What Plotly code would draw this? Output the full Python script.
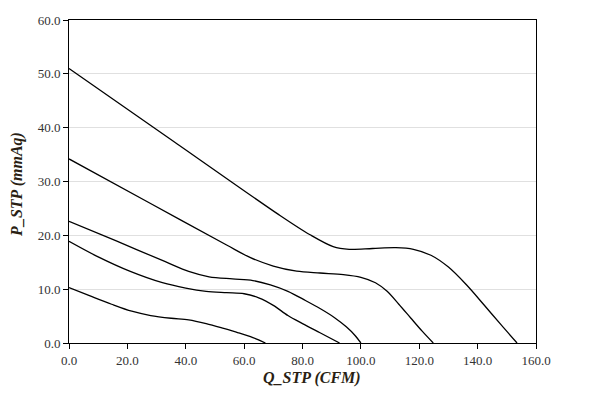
import plotly.graph_objects as go

# Fan curves: Q_STP (CFM) vs P_STP (mmAq)
c1_q = [0, 36, 72, 82.6, 90.5, 96, 104, 112, 118, 124, 130, 136, 142, 148, 153.5]
c1_p = [51.0, 37.4, 23.8, 20.1, 17.9, 17.4, 17.55, 17.7, 17.4, 16.3, 14.1, 10.9, 7.2, 3.4, 0.0]

c2_q = [0, 27, 54, 62, 70, 78, 86, 94, 100, 105, 109, 113, 117, 121, 124.8]
c2_p = [34.2, 26.2, 18.2, 15.9, 14.3, 13.35, 13.0, 12.7, 12.2, 11.2, 9.6, 7.2, 4.7, 2.2, 0.0]

c3_q = [0, 16, 33, 41, 48, 56, 63, 69, 75, 81, 86, 91, 95, 98, 100]
c3_p = [22.6, 19.0, 15.1, 13.3, 12.3, 11.9, 11.6, 10.8, 9.6, 7.9, 6.4, 4.7, 3.0, 1.4, 0.0]

c4_q = [0, 10, 21, 32, 40, 47, 54, 60, 65, 70, 75, 80, 86, 92.7]
c4_p = [18.9, 16.0, 13.3, 11.2, 10.2, 9.6, 9.35, 9.15, 8.4, 7.0, 5.1, 3.6, 1.9, 0.0]

c5_q = [0, 7, 14.6, 21.5, 28, 35, 41, 47, 53, 58, 63, 67.3]
c5_p = [10.3, 8.8, 7.2, 5.9, 5.1, 4.6, 4.3, 3.6, 2.7, 1.9, 1.0, 0.0]

curves = [(c1_q, c1_p), (c2_q, c2_p), (c3_q, c3_p), (c4_q, c4_p), (c5_q, c5_p)]

x_ticks = [0, 20, 40, 60, 80, 100, 120, 140, 160]
y_ticks = [0, 10, 20, 30, 40, 50, 60]

fig = go.Figure()
for q, p in curves:
    fig.add_trace(go.Scatter(x=q, y=p, mode="lines",
                             line=dict(color="black", width=1.3, shape="spline", smoothing=0.9),
                             showlegend=False, hoverinfo="skip"))

serif = "Times New Roman, Liberation Serif, serif"
tickfont = dict(family=serif, size=13, color="#333333")
titlefont = dict(family=serif, size=16, color="#2a1f14")

fig.update_layout(
    width=614, height=403,
    margin=dict(l=69, r=78, t=20, b=60),
    paper_bgcolor="white", plot_bgcolor="white",
    annotations=[
        dict(text="<b><i>Q_STP (CFM)</i></b>", xref="paper", yref="paper",
             x=0.52, y=-0.108, xanchor="center", yanchor="middle",
             showarrow=False, font=titlefont),
        dict(text="<b><i>P_STP (mmAq)</i></b>", xref="paper", yref="paper",
             x=-0.111, y=0.49, xanchor="center", yanchor="middle",
             textangle=-90, showarrow=False, font=titlefont),
    ],
)
fig.update_xaxes(
    range=[0, 160], tickvals=x_ticks, tickformat=".1f",
    showgrid=False, zeroline=False,
    showline=True, linecolor="black", linewidth=1, mirror=True,
    ticks="outside", ticklen=5, tickcolor="black",
    tickfont=tickfont,
)
fig.update_yaxes(
    range=[0, 60], tickvals=y_ticks, tickformat=".1f",
    showgrid=True, gridcolor="#e0e0e0", gridwidth=1, zeroline=False,
    showline=True, linecolor="black", linewidth=1, mirror=True,
    ticks="outside", ticklen=5, tickcolor="black",
    tickfont=tickfont,
)

fig.write_html("out.html")
